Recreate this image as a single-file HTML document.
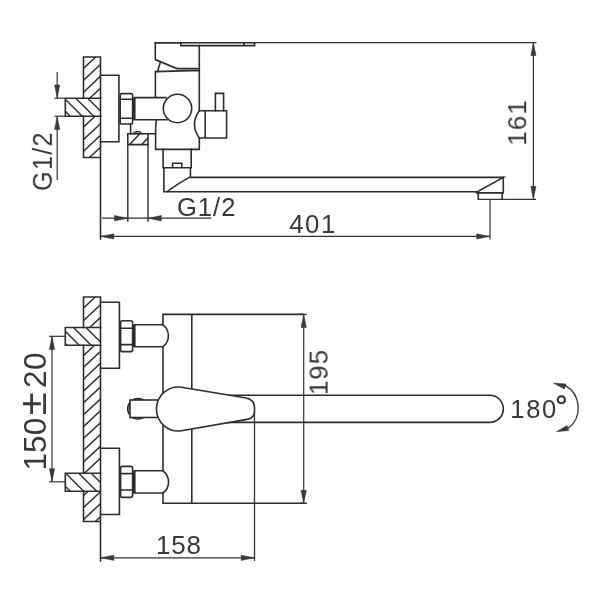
<!DOCTYPE html>
<html><head><meta charset="utf-8"><title>Faucet dimensions</title>
<style>
html,body{margin:0;padding:0;background:#fff;}
body{width:600px;height:600px;overflow:hidden;}
svg{display:block;}
text{font-family:"Liberation Sans",sans-serif;fill:#383838;}
.m{stroke:#2d2d2d;stroke-width:1.6;fill:none;stroke-linecap:square;stroke-linejoin:miter;}
.w{stroke:#2d2d2d;stroke-width:1.6;fill:#fff;stroke-linejoin:miter;}
.d{stroke:#333;stroke-width:1.2;fill:none;}
.h{stroke:#2d2d2d;stroke-width:1.45;fill:none;}
.a{fill:#3a3a3a;stroke:#333;stroke-width:0.5;}
</style></head><body>
<svg width="600" height="600" viewBox="0 0 600 600">
<rect width="600" height="600" fill="#fff"/>
<defs>
<clipPath id="cw1"><rect x="83.5" y="57" width="17" height="41"/><rect x="83.5" y="116" width="17" height="41.5"/></clipPath>
<clipPath id="cp1"><rect x="65" y="98" width="35.5" height="18"/></clipPath>
<clipPath id="cw2"><rect x="83.5" y="297" width="17" height="30.5"/><rect x="83.5" y="345.3" width="17" height="128"/><rect x="83.5" y="491.3" width="17" height="30"/></clipPath>
<clipPath id="cp2"><rect x="65" y="327.5" width="35.5" height="17.8"/><rect x="65" y="473.3" width="35.5" height="18"/></clipPath>
<clipPath id="cb1"><rect x="128" y="134" width="20" height="10.5"/></clipPath>
</defs>

<!-- ================= TOP (side) VIEW ================= -->
<g id="topview">
<!-- wall hatch -->
<g class="h" clip-path="url(#cw1)" id="wh1"><line x1="81.0" y1="70.7" x2="103.0" y2="50.2"/><line x1="81.0" y1="82.6" x2="103.0" y2="62.1"/><line x1="81.0" y1="94.5" x2="103.0" y2="74.0"/><line x1="81.0" y1="106.4" x2="103.0" y2="85.9"/><line x1="81.0" y1="129.3" x2="103.0" y2="108.8"/><line x1="81.0" y1="141.8" x2="103.0" y2="121.3"/><line x1="81.0" y1="153.5" x2="103.0" y2="133.0"/><line x1="81.0" y1="165.4" x2="103.0" y2="144.9"/></g>
<g class="h" clip-path="url(#cp1)" id="ph1"><line x1="50.0" y1="96.0" x2="73.0" y2="119.0"/><line x1="62.0" y1="96.0" x2="85.0" y2="119.0"/><line x1="73.5" y1="96.0" x2="96.5" y2="119.0"/><line x1="85.5" y1="96.0" x2="108.5" y2="119.0"/></g>
<!-- wall -->
<path class="m" d="M83.5,57 H100.5 V98 M100.5,116 V239 M100.5,157.5 H83.5 V116 M83.5,98 V57"/>
<!-- pipe -->
<path class="m" d="M100.5,98.2 H65.3 V116.2 H100.5"/>
<line class="m" x1="100.5" y1="98" x2="100.5" y2="116"/>
<!-- flange -->
<path class="m" d="M100.5,75.2 H118.9 V141.8 H100.5"/>
<!-- nut -->
<path class="m" d="M121.5,93.6 H131 Q132.6,93.6 132.6,95.2 V122.4 Q132.6,124 131,124 H121.5 Q120.2,124 120.2,122.4 V95.2 Q120.2,93.6 121.5,93.6 Z"/>
<path class="m" d="M120.2,99.3 H132.6 M120.2,118.3 H132.6"/>
<!-- inlet tube -->
<path class="m" d="M166,97.6 H134.8 V119.7 H167 M133.3,98 V119.5"/>
<!-- body -->
<path class="m" d="M155.4,97 V71.6 L199.3,70.4 V110.8 M199.3,138 V149.4 H155.6 V133.6 M155.6,133.6 Q155.4,126 156.4,119.7"/>
<!-- under-nut stub and line to body -->
<path class="m" d="M130.6,124 V133.7 H155.6"/>
<path d="M132.5,133.7 Q137.5,129 142.6,133.7 Z" fill="#999" stroke="#2d2d2d" stroke-width="1.2"/>
<!-- circle -->
<circle class="w" cx="177.5" cy="108.5" r="14.2"/>
<!-- handle -->
<path class="m" d="M199.3,70.4 V45.6 M180.8,42.7 H155.3 V59.6 L177,68.6 H197.5 M160,63.3 L157.6,71.4"/>
<!-- top plate -->
<path class="m" d="M180.8,42.7 V45.6 H254.6 V42.7 M244,42.7 V45.6 M155.3,42.7 H255"/>
<!-- diverter -->
<path class="m" d="M199.3,110.8 H226.6 V138 H199.3 M205.2,110.8 V138 M199.3,110.8 Q189.6,124.4 199.3,138"/>
<path class="m" d="M215.4,110.8 V93.4 H223.6 V110.8"/>
<!-- neck -->
<path class="m" d="M163.1,149.4 V167.8 H191.2 V149.4 M172.6,167.8 V163.2 H181.8 V167.8"/>
<!-- spout -->
<path class="m" d="M163.9,167.8 V191.7 H477.5 L503.3,177.4 H190.4 V167.8"/>
<path class="m" d="M167.5,191.3 Q178.5,183.2 189.2,177.4"/>
<path class="m" d="M503.3,177.4 V192.6 L502.2,193.6 V199.2 M476.6,192.6 L478.3,193.8 V199.2 M476.6,192.9 H503.3"/>
<!-- G1/2 outlet box -->
<g class="h" clip-path="url(#cb1)"><path d="M129.6,144.6 L139.6,134 M141.6,144.6 L148.4,137.4"/></g>
<path class="m" d="M127.8,133.8 V144.6 H148 V133.8 M127.8,133.8 H131"/>
<path class="m" d="M127.8,144.6 V221 M148,144.6 V221" style="stroke-width:1.4"/>
</g>

<!-- top view dimensions -->
<g id="topdims">
<line class="d" x1="254.6" y1="42.6" x2="536.5" y2="42.6"/>
<line class="d" x1="478" y1="199.3" x2="536" y2="199.3" style="stroke-width:1.3"/>
<line class="d" x1="533.4" y1="42.6" x2="533.4" y2="199.3"/>
<path class="a" d="M533.4,42.9 L536,55.6 H530.8 Z"/>
<path class="a" d="M533.4,199 L536,186.3 H530.8 Z"/>
<!-- 401 -->
<line class="d" x1="490" y1="199.3" x2="490" y2="239.5"/>
<line class="d" x1="100.5" y1="236.4" x2="490" y2="236.4"/>
<path class="a" d="M100.8,236.4 L113.8,233.8 V239 Z"/>
<path class="a" d="M489.7,236.4 L476.7,233.8 V239 Z"/>
<!-- G1/2 horizontal -->
<line class="d" x1="102" y1="218.2" x2="211.4" y2="218.2"/>
<path class="a" d="M127.5,218.2 L114.5,215.5 V220.9 Z"/>
<path class="a" d="M148.3,218.2 L161.3,215.5 V220.9 Z"/>
<!-- G1/2 vertical -->
<line class="d" x1="54.5" y1="98.2" x2="65.3" y2="98.2"/>
<line class="d" x1="54.5" y1="116.2" x2="65.3" y2="116.2"/>
<line class="d" x1="57.2" y1="72" x2="57.2" y2="98"/>
<line class="d" x1="57.2" y1="116.2" x2="57.2" y2="180"/>
<path class="a" d="M57.2,98 L59.8,85 H54.6 Z"/>
<path class="a" d="M57.2,116.4 L59.8,129.4 H54.6 Z"/>
</g>

<!-- ================= BOTTOM (plan) VIEW ================= -->
<g id="botview">
<g class="h" clip-path="url(#cw2)" id="wh2"><line x1="81.0" y1="310.3" x2="103.0" y2="289.8"/><line x1="81.0" y1="322.8" x2="103.0" y2="302.3"/><line x1="81.0" y1="335.6" x2="103.0" y2="315.1"/><line x1="81.0" y1="357.8" x2="103.0" y2="337.3"/><line x1="81.0" y1="369.6" x2="103.0" y2="349.2"/><line x1="81.0" y1="381.5" x2="103.0" y2="361.0"/><line x1="81.0" y1="393.3" x2="103.0" y2="372.9"/><line x1="81.0" y1="405.2" x2="103.0" y2="384.7"/><line x1="81.0" y1="417.0" x2="103.0" y2="396.6"/><line x1="81.0" y1="428.9" x2="103.0" y2="408.4"/><line x1="81.0" y1="440.7" x2="103.0" y2="420.3"/><line x1="81.0" y1="452.6" x2="103.0" y2="432.1"/><line x1="81.0" y1="464.4" x2="103.0" y2="444.0"/><line x1="81.0" y1="476.3" x2="103.0" y2="455.8"/><line x1="81.0" y1="497.8" x2="103.0" y2="477.3"/><line x1="81.0" y1="509.8" x2="103.0" y2="489.3"/><line x1="81.0" y1="521.8" x2="103.0" y2="501.3"/><line x1="81.0" y1="534.8" x2="103.0" y2="514.3"/></g>
<g class="h" clip-path="url(#cp2)" id="ph2"><line x1="47.0" y1="325.2" x2="70.0" y2="348.2"/><line x1="59.2" y1="325.2" x2="82.2" y2="348.2"/><line x1="71.2" y1="325.2" x2="94.2" y2="348.2"/><line x1="83.7" y1="325.2" x2="106.7" y2="348.2"/><line x1="50.0" y1="471.0" x2="73.0" y2="494.0"/><line x1="63.5" y1="471.0" x2="86.5" y2="494.0"/><line x1="76.5" y1="471.0" x2="99.5" y2="494.0"/><line x1="89.0" y1="471.0" x2="112.0" y2="494.0"/></g>
<!-- wall -->
<path class="m" d="M83.5,297 H100.5 V561 M100.5,521.5 H83.5 V491.3 M83.5,473.3 V345.3 M83.5,327.5 V297"/>
<!-- pipes -->
<path class="m" d="M100.5,327.5 H65.3 V345.3 H100.5"/>
<path class="m" d="M100.5,473.3 H65.3 V491.3 H100.5"/>
<!-- flanges -->
<path class="m" d="M100.5,302.3 H119.4 V368.3 H100.5"/>
<path class="m" d="M100.5,448.2 H119.4 V514.5 H100.5"/>
<!-- nuts -->
<path class="m" d="M122.2,320.8 H130.8 Q132.6,320.8 132.6,322.6 V349.8 Q132.6,351.6 130.8,351.6 H122.2 Q120.6,351.6 120.6,349.8 V322.6 Q120.6,320.8 122.2,320.8 Z M120.6,328.3 H132.6 M120.6,344.6 H132.6"/>
<path class="m" d="M122.2,466.4 H130.8 Q132.6,466.4 132.6,468.2 V495.6 Q132.6,497.4 130.8,497.4 H122.2 Q120.6,497.4 120.6,495.6 V468.2 Q120.6,466.4 122.2,466.4 Z M120.6,473.6 H132.6 M120.6,490 H132.6"/>
<!-- tubes -->
<path class="m" d="M163,324.8 H134.8 V346.7 H163 M133.3,325.2 V346.3 M163,324.8 A13.8,13.8 0 0 1 163,346.7"/>
<path class="m" d="M163,470.8 H134.8 V493 H163 M133.3,471.2 V492.6 M163,470.8 A13.9,13.9 0 0 1 163,493"/>
<!-- body -->
<path class="m" d="M163,324.8 V314.4 H303 M163,346.7 V470.8 M163,493 V503.3 H303 M191.8,314.4 V503.3"/>
<!-- spout -->
<path class="m" d="M226,395.3 H489.8 A13.55,13.55 0 0 1 489.8,422.4 H226"/>
<!-- diverter stem -->
<circle cx="138" cy="408.7" r="10.4" fill="#8a8a8a" stroke="#2d2d2d" stroke-width="1.3"/>
<rect class="w" x="130" y="400" width="28" height="17.5"/>
<!-- handle -->
<path class="w" d="M181.4,387.2 L245,397.8 Q254.5,399.5 254.5,407.5 V411.5 Q254.5,418.2 247,419.4 L181.4,430.8 A22,22 0 1 1 181.4,387.2 Z"/>
</g>

<!-- bottom view dims -->
<g id="botdims">
<line class="d" x1="254.5" y1="411" x2="254.5" y2="561" style="stroke-width:1.3"/>
<line class="d" x1="100.5" y1="557.8" x2="254.5" y2="557.8"/>
<path class="a" d="M100.8,557.8 L113.8,555.2 V560.4 Z"/>
<path class="a" d="M254.2,557.8 L241.2,555.2 V560.4 Z"/>
<!-- 195 -->
<line class="d" x1="300" y1="314.4" x2="306.8" y2="314.4" style="stroke-width:1.4"/>
<line class="d" x1="300" y1="503.3" x2="307" y2="503.3" style="stroke-width:1.4"/>
<line class="d" x1="303.7" y1="314.4" x2="303.7" y2="503.3"/>
<path class="a" d="M303.7,314.7 L306.4,327.4 H301 Z"/>
<path class="a" d="M303.7,503 L306.4,490.3 H301 Z"/>
<!-- 150±20 -->
<line class="d" x1="49" y1="336.3" x2="65.3" y2="336.3"/>
<line class="d" x1="49" y1="481.8" x2="65.3" y2="481.8"/>
<line class="d" x1="52" y1="336.3" x2="52" y2="481.8"/>
<path class="a" d="M52,336.6 L54.6,349.4 H49.4 Z"/>
<path class="a" d="M52,481.5 L54.6,468.7 H49.4 Z"/>
<!-- rotation arc -->
<path class="d" d="M565,385.4 A25.8,25.8 0 0 1 567.6,428.8" style="stroke-width:1.3"/>
<path class="a" d="M553.4,383.1 L566,383.9 L564.4,389 Z"/>
<path class="a" d="M556.4,431.7 L567,425.6 L568.7,430.6 Z"/>
</g>

<!-- ================= TEXT ================= -->
<g id="texts" style="opacity:0.999">
<text id="t401" x="289.2" y="232.8" font-size="25.8" letter-spacing="1.5">401</text>
<text id="tg1" x="176.9" y="215.9" font-size="25.5" letter-spacing="1.1">G1/2</text>
<text id="t161" transform="translate(526.2,145.7) rotate(-90)" font-size="26" letter-spacing="1.1">161</text>
<text id="tg2" transform="translate(51.8,191) rotate(-90) scale(1,1.08)" font-size="25.2" letter-spacing="1.3">G1/2</text>
<text id="t158" x="155.9" y="553.5" font-size="26" letter-spacing="0.8">158</text>
<text id="t195" transform="translate(327.6,395.1) rotate(-90)" font-size="26" letter-spacing="0.9">195</text>
<text id="t150a" transform="translate(46.1,470.4) rotate(-90)" font-size="31.5">150</text>
<text id="t150b" transform="translate(46.2,415.3) rotate(-90) scale(1.1,1)" font-size="38">±</text>
<text id="t150c" transform="translate(46.1,388) rotate(-90)" font-size="31.5" letter-spacing="0.5">20</text>
<text id="t180" x="510.3" y="417.6" font-size="25.5" letter-spacing="1.7">180</text>
<text id="tdeg" x="555.0" y="417.1" font-size="32" stroke="#333" stroke-width="0.5">°</text>
</g>
</svg>
</body></html>
